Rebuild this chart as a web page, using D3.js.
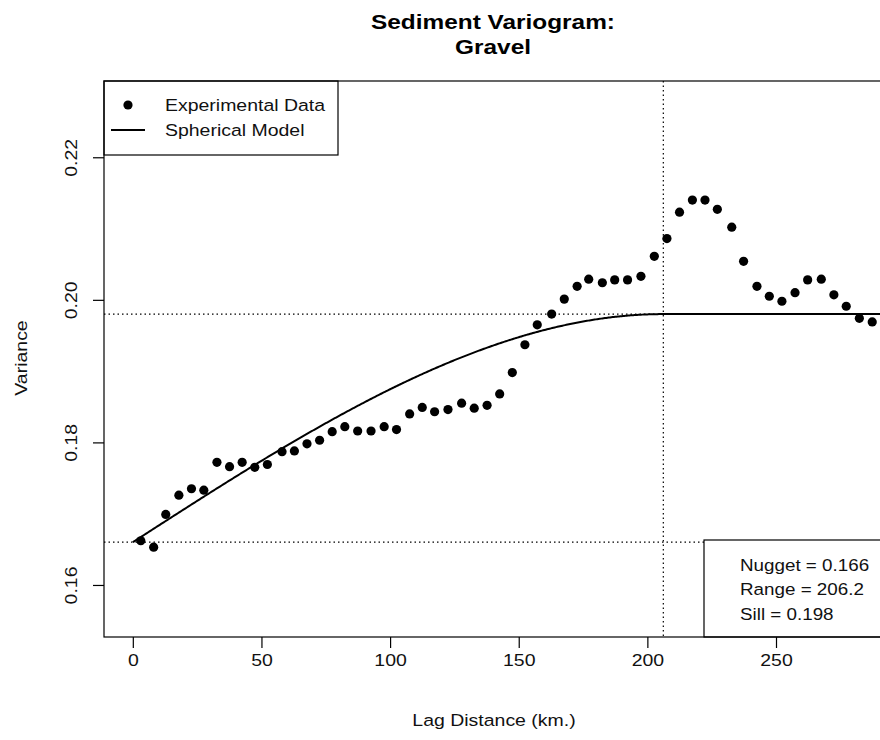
<!DOCTYPE html>
<html>
<head>
<meta charset="utf-8">
<script src="https://cdn.jsdelivr.net/npm/d3@7"></script>
<style>
  html, body { margin: 0; padding: 0; background: #fff; }
  svg { display: block; font-family: Arial, "Liberation Sans", sans-serif; }
</style>
</head>
<body>
<svg id="chart" width="880" height="740"></svg>
<script>
// Experimental semivariance for gravel, by lag distance (km)
const lagDistance = [
  3.1, 8.1, 12.8, 17.9, 22.8, 27.6, 32.7, 37.6, 42.5, 47.4,
  52.3, 58.0, 62.8, 67.7, 72.6, 77.5, 82.4, 87.4, 92.6, 97.7,
  102.5, 107.6, 112.5, 117.3, 122.5, 127.8, 132.7, 137.7, 142.6, 147.5,
  152.4, 157.2, 162.8, 167.7, 172.7, 177.2, 182.5, 187.3, 192.3, 197.5,
  202.7, 207.6, 212.5, 217.5, 222.4, 227.2, 232.8, 237.4, 242.6, 247.4,
  252.3, 257.4, 262.3, 267.6, 272.5, 277.3, 282.4, 287.4
];
const semivariance = [
  0.1662, 0.1653, 0.1699, 0.1726, 0.1735, 0.1733, 0.1772, 0.1766, 0.1772, 0.1765,
  0.1769, 0.1787, 0.1788, 0.1798, 0.1803, 0.1815, 0.1822, 0.1816, 0.1816, 0.1822,
  0.1818, 0.1840, 0.1849, 0.1843, 0.1846, 0.1855, 0.1848, 0.1852, 0.1868, 0.1898,
  0.1937, 0.1965, 0.1980, 0.2001, 0.2019, 0.2029, 0.2024, 0.2028, 0.2028, 0.2033,
  0.2061, 0.2086, 0.2123, 0.2140, 0.2140, 0.2127, 0.2102, 0.2054, 0.2019, 0.2005,
  0.1998, 0.2010, 0.2028, 0.2029, 0.2007, 0.1991, 0.1974, 0.1969
];

// Fitted spherical model parameters
const nugget = 0.166;
const range = 206.2;
const sill = 0.198;

const xTicks = [0, 50, 100, 150, 200, 250];
const yTicks = [0.16, 0.18, 0.20, 0.22];
const legendLabels = ["Experimental Data", "Spherical Model"];

const svg = d3.select("#chart");
const box = { left: 104, right: 882, top: 81, bottom: 637 };
const FONT = "Arial, 'Liberation Sans', sans-serif";
const TEXT_SIZE = 16.5;
const WIDEN = 1.18;       // horizontal stretch applied to body text
const TITLE_WIDEN = 1.22;

const x = d3.scaleLinear().domain([-11.2, 291.2]).range([box.left, box.right]);
const y = d3.scaleLinear().domain([0.1527, 0.2307]).range([box.bottom, box.top]);

function spherical(h) {
  if (h >= range) return sill;
  const r = h / range;
  return nugget + (sill - nugget) * (1.5 * r - 0.5 * r * r * r);
}

// places a text at (tx, ty), optionally rotated, widened along its baseline
function label(parent, str, tx, ty, opts = {}) {
  const rot = opts.rotate ? ` rotate(${opts.rotate})` : "";
  return parent.append("text")
    .attr("transform", `translate(${tx},${ty})${rot} scale(${opts.widen || WIDEN},1)`)
    .attr("text-anchor", opts.anchor || "start")
    .attr("dominant-baseline", "central")
    .attr("font-size", opts.size || TEXT_SIZE)
    .attr("font-weight", opts.weight || "normal")
    .attr("fill", opts.fill || "#111")
    .text(str);
}

svg.append("defs").append("clipPath").attr("id", "plotClip")
  .append("rect")
  .attr("x", box.left).attr("y", box.top)
  .attr("width", box.right - box.left).attr("height", box.bottom - box.top);

const plot = svg.append("g").attr("clip-path", "url(#plotClip)");

// reference lines for nugget, sill and range
const dotted = "1.5,3";
plot.append("line")
  .attr("x1", box.left).attr("x2", box.right)
  .attr("y1", y(nugget)).attr("y2", y(nugget))
  .attr("stroke", "#000").attr("stroke-width", 1.2).attr("stroke-dasharray", dotted);
plot.append("line")
  .attr("x1", box.left).attr("x2", box.right)
  .attr("y1", y(sill)).attr("y2", y(sill))
  .attr("stroke", "#000").attr("stroke-width", 1.2).attr("stroke-dasharray", dotted);
plot.append("line")
  .attr("x1", x(range)).attr("x2", x(range))
  .attr("y1", box.top).attr("y2", box.bottom)
  .attr("stroke", "#000").attr("stroke-width", 1.2).attr("stroke-dasharray", dotted);

// model curve
const hGrid = d3.range(0, 300.5, 0.5);
plot.append("path")
  .datum(hGrid)
  .attr("fill", "none")
  .attr("stroke", "#000")
  .attr("stroke-width", 2)
  .attr("d", d3.line().x(h => x(h)).y(h => y(spherical(h))));

// experimental points
plot.selectAll("circle.pt")
  .data(lagDistance.map((h, i) => [h, semivariance[i]]))
  .join("circle")
  .attr("class", "pt")
  .attr("cx", d => x(d[0]))
  .attr("cy", d => y(d[1]))
  .attr("r", 4.6)
  .attr("fill", "#000");

// legend
const leg = svg.append("g");
leg.append("rect")
  .attr("x", box.left).attr("y", box.top)
  .attr("width", 234).attr("height", 74)
  .attr("fill", "#fff").attr("stroke", "#000").attr("stroke-width", 1.2);
leg.append("circle").attr("cx", 128).attr("cy", 105).attr("r", 4.6).attr("fill", "#000");
leg.append("line").attr("x1", 111).attr("x2", 145).attr("y1", 130).attr("y2", 130)
  .attr("stroke", "#000").attr("stroke-width", 2);
legendLabels.forEach((d, i) => label(leg, d, 165, 106 + i * 25));

// parameter box
const info = svg.append("g");
info.append("rect")
  .attr("x", 704).attr("y", 540)
  .attr("width", 200).attr("height", box.bottom - 540)
  .attr("fill", "#fff").attr("stroke", "#000").attr("stroke-width", 1.2);
const infoLines = [
  "Nugget = " + d3.format(".3f")(nugget),
  "Range = " + d3.format(".1f")(range),
  "Sill = " + d3.format(".3f")(sill)
];
infoLines.forEach((d, i) => label(info, d, 740, 565 + i * 24.5, { widen: 1.14 }));

// plot frame
svg.append("rect")
  .attr("x", box.left).attr("y", box.top)
  .attr("width", box.right - box.left).attr("height", box.bottom - box.top)
  .attr("fill", "none").attr("stroke", "#000").attr("stroke-width", 1.2);

// axes
const xAxis = svg.append("g")
  .attr("transform", `translate(0,${box.bottom})`)
  .call(d3.axisBottom(x).tickValues(xTicks).tickFormat(d3.format("d")).tickSize(11));
xAxis.select(".domain").remove();
xAxis.selectAll("line").attr("stroke-width", 1.2);
xAxis.selectAll("text")
  .attr("y", null).attr("dy", null)
  .attr("font-size", TEXT_SIZE).attr("fill", "#111").attr("font-family", FONT)
  .attr("dominant-baseline", "central")
  .attr("transform", `translate(0,24) scale(${WIDEN},1)`);

const yAxis = svg.append("g")
  .attr("transform", `translate(${box.left},0)`)
  .call(d3.axisLeft(y).tickValues(yTicks).tickFormat(d3.format(".2f")).tickSize(11));
yAxis.select(".domain").remove();
yAxis.selectAll("line").attr("stroke-width", 1.2);
yAxis.selectAll("text")
  .attr("font-size", TEXT_SIZE).attr("fill", "#111").attr("font-family", FONT)
  .attr("text-anchor", "middle")
  .attr("x", null).attr("dy", null)
  .attr("dominant-baseline", "central")
  .attr("transform", `translate(-32,0) rotate(-90) scale(${WIDEN},1)`);

// titles
label(svg, "Sediment Variogram:", 493, 22, { anchor: "middle", size: 20, weight: "bold", widen: TITLE_WIDEN, fill: "#000" });
label(svg, "Gravel", 493, 47, { anchor: "middle", size: 20, weight: "bold", widen: TITLE_WIDEN, fill: "#000" });

label(svg, "Lag Distance (km.)", 494, 721, { anchor: "middle" });
label(svg, "Variance", 22, 358, { anchor: "middle", rotate: -90 });
</script>
</body>
</html>
